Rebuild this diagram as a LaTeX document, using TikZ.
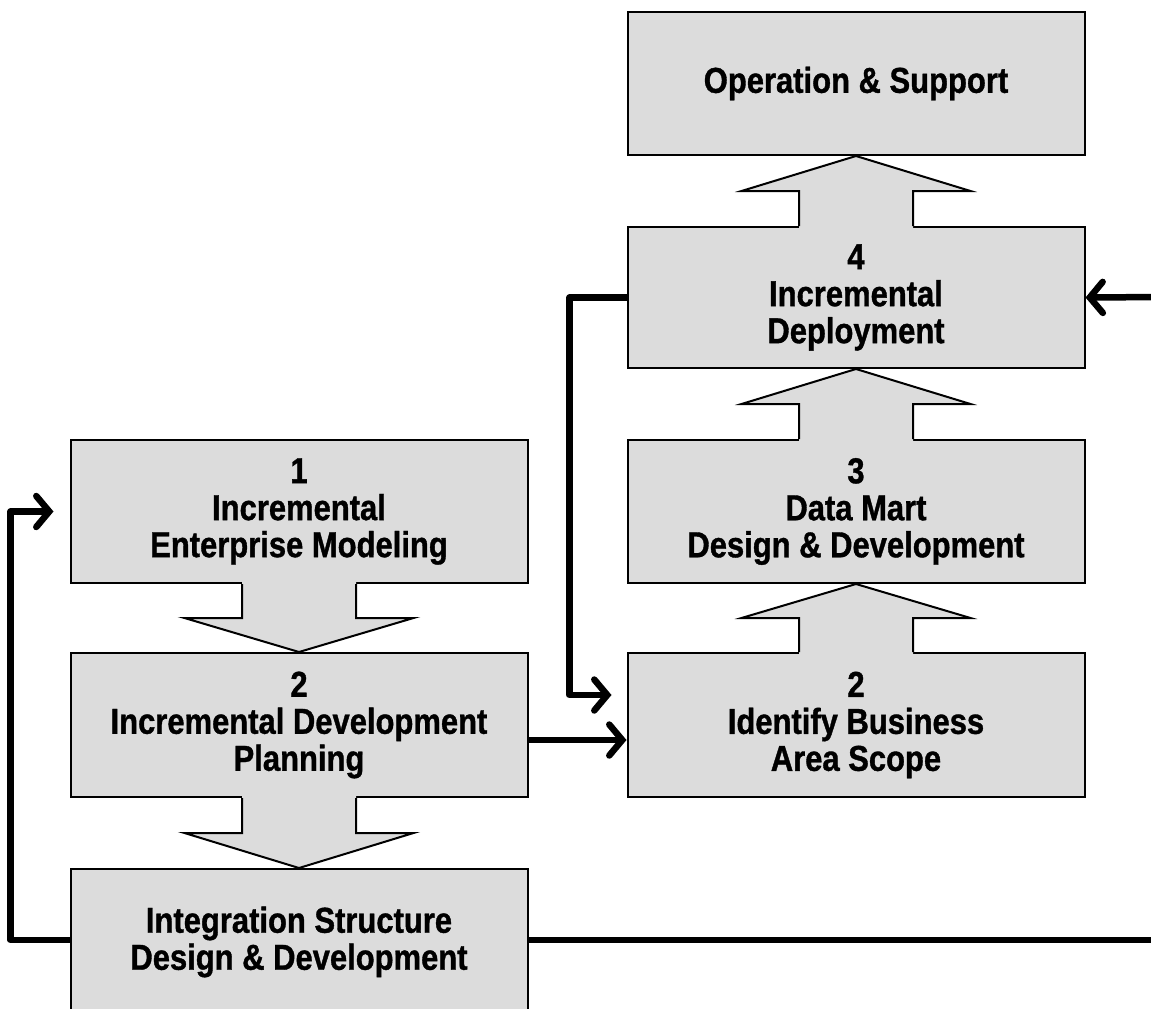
\documentclass[tikz,border=0pt]{standalone}
\usepackage{fontspec}
\setmainfont{Liberation Sans}[FakeStretch=0.86, BoldFeatures={FakeBold=1}]
\usetikzlibrary{arrows.meta,calc}
\definecolor{boxgray}{RGB}{220,220,220}
\tikzset{
  stage/.style={draw=black, fill=boxgray, line width=2pt, minimum width=457pt,
    minimum height=143pt, inner sep=0pt, align=center,
    font=\fontsize{36}{37}\selectfont\bfseries},
  flow/.style={line width=6.5pt, line join=round,
    -{Straight Barb[length=13pt,width=31pt,line cap=round]}},
  feed/.style={line width=6.5pt, line join=round},
  blockline/.style={draw=black, line width=2pt, line join=miter}
}
% broad hollow arrow from base point #1 to tip point #2
\newcommand\blkarrow[2]{%
  \coordinate (ba) at (#1);
  \coordinate (ti) at (#2);
  \coordinate (bb) at ($(ba)!-2pt!(ti)$);
  \coordinate (mi) at ($(ba)!.5!(ti)$);
  \fill[boxgray] ($(bb)!57pt!90:(ti)$) -- ($(mi)!57pt!90:(ti)$)
    -- ($(mi)!114.5pt!90:(ti)$) -- (ti) -- ($(mi)!114.5pt!-90:(ti)$)
    -- ($(mi)!57pt!-90:(ti)$) -- ($(bb)!57pt!-90:(ti)$) -- cycle;
  \draw[blockline] ($(ba)!57pt!90:(ti)$) -- ($(mi)!57pt!90:(ti)$)
    -- ($(mi)!114.5pt!90:(ti)$) -- (ti) -- ($(mi)!114.5pt!-90:(ti)$)
    -- ($(mi)!57pt!-90:(ti)$) -- ($(ba)!57pt!-90:(ti)$);
}
\begin{document}
\begin{tikzpicture}[x=1pt, y=-1pt]
  \clip (0,0) rectangle (1151,1009);
  \fill[white] (0,0) rectangle (1151,1009);

  % left column
  \node[stage] (em) at (299,511.5) {1\\Incremental\\Enterprise Modeling};
  \node[stage, minimum height=144pt] (plan) at (299,725) {2\\Incremental Development\\Planning};
  \node[stage, minimum height=146pt] (integ) at (299,942) {Integration Structure\\Design \& Development};

  % right column
  \node[stage] (ops) at (856,83.5) {Operation \& Support};
  \node[stage, minimum height=141pt] (dep) at (856,297.5) {4\\Incremental\\Deployment};
  \node[stage] (dm) at (856,511.5) {3\\Data Mart\\Design \& Development};
  \node[stage, minimum height=144pt] (ident) at (856,725) {2\\Identify Business\\Area Scope};

  % broad arrows between stages
  \blkarrow{em.south}{plan.north}
  \blkarrow{plan.south}{integ.north}
  \blkarrow{ident.north}{dm.south}
  \blkarrow{dm.north}{dep.south}
  \blkarrow{dep.north}{ops.south}

  % feedback loops
  \coordinate (offA) at (1165,940);
  \coordinate (offB) at (1165,297);
  \draw[flow] ($(integ.west)+(0,-2)$) -- ++(-59,0) |- ($(em.west)+(-16,0)$);
  \draw[feed] ($(integ.east)+(0,-2)$) -- (offA);
  \draw[flow] (offB) -- (dep.east);
  \draw[flow] (dep.west) -- ++(-57,0) |- ($(ident.west)+(-15,-30)$);
  \draw[flow] ($(plan.east)+(0,15)$) -- ($(ident.west)+(0,15)$);
\end{tikzpicture}
\end{document}
